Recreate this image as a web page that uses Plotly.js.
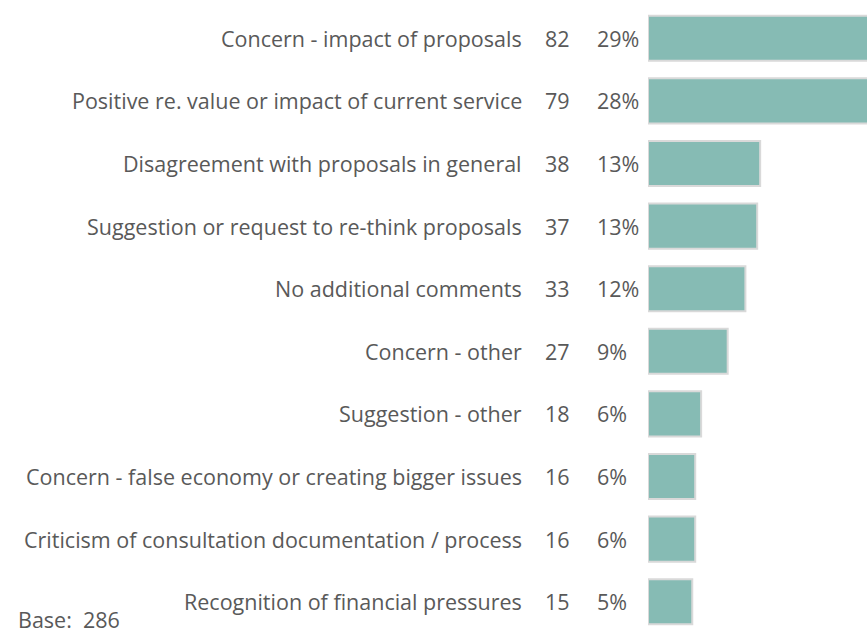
<!DOCTYPE html>
<html>
<head>
<meta charset="utf-8">
<script src="https://cdn.plot.ly/plotly-3.0.1.min.js"></script>
<style>html,body{margin:0;padding:0;background:#fff}#chart{width:867px;height:635px}</style>
</head>
<body>
<div id="chart"></div>
<script>
const categories = [
  "Concern - impact of proposals",
  "Positive re. value or impact of current service",
  "Disagreement with proposals in general",
  "Suggestion or request to re-think proposals",
  "No additional comments",
  "Concern - other",
  "Suggestion - other",
  "Concern - false economy or creating bigger issues",
  "Criticism of consultation documentation / process",
  "Recognition of financial pressures"
];
const counts = [82, 79, 38, 37, 33, 27, 18, 16, 16, 15];
const percents = ["29%", "28%", "13%", "13%", "12%", "9%", "6%", "6%", "6%", "5%"];
const baseLabel = "Base:  286";

const W = 867, L = 648, PW = W - L, T = 7, B = 2, PH = 635 - T - B;
const px = v => (v - L) / PW;
const font = {family: "Open Sans, sans-serif", size: 21.5, color: "#595959"};

const annotations = [];
categories.forEach((c, i) => {
  annotations.push({xref: "paper", yref: "y", x: px(523), y: c, text: c, xanchor: "right", yanchor: "middle", showarrow: false, font: font, borderpad: 0});
  annotations.push({xref: "paper", yref: "y", x: px(571), y: c, text: String(counts[i]), xanchor: "right", yanchor: "middle", showarrow: false, font: font, borderpad: 0});
  annotations.push({xref: "paper", yref: "y", x: px(596), y: c, text: percents[i], xanchor: "left", yanchor: "middle", showarrow: false, font: font, borderpad: 0});
});
annotations.push({xref: "paper", yref: "paper", x: px(17), y: -(B - 0) / PH, text: baseLabel, xanchor: "left", yanchor: "bottom", showarrow: false, font: font, borderpad: 0});

const data = [{
  type: "bar",
  orientation: "h",
  x: counts,
  y: categories,
  marker: {color: "#86BBB4", line: {color: "#D9D9D9", width: 2}},
  hoverinfo: "none"
}];

const layout = {
  width: 867, height: 635,
  margin: {l: L, r: 0, t: T, b: B},
  paper_bgcolor: "#fff", plot_bgcolor: "#fff",
  showlegend: false,
  bargap: 0.28,
  xaxis: {range: [0, 74.2], visible: false, fixedrange: true},
  yaxis: {autorange: "reversed", showticklabels: false, showgrid: false, zeroline: false, ticks: "", fixedrange: true},
  annotations: annotations
};

Plotly.newPlot("chart", data, layout, {displayModeBar: false, staticPlot: true});
</script>
</body>
</html>
